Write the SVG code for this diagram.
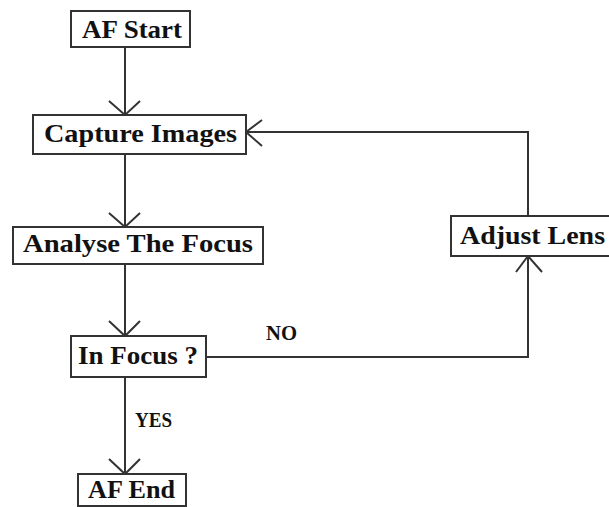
<svg xmlns="http://www.w3.org/2000/svg" width="609" height="507" viewBox="0 0 609 507">
<style>
.box{fill:#fff;stroke:#333;stroke-width:2}
.t{font-family:"Liberation Serif","Times New Roman",serif;font-weight:bold;font-size:26px;fill:#111}
.s{font-family:"Liberation Serif","Times New Roman",serif;font-weight:bold;font-size:20px;fill:#111}
.c{fill:none;stroke:#333;stroke-width:2}
</style>
<rect width="609" height="507" fill="#fff"/>
<g id="connectors">
<path class="c" d="M125 47V115M109 101L125 115L140 101"/>
<path class="c" d="M125 154V227M109 213L125 227L140 213"/>
<path class="c" d="M125 264V336M109 321L125 336L140 321"/>
<path class="c" d="M125 377V474M109 459L125 474L140 459"/>
<path class="c" d="M206 357H528V256M516 272L528 256L542 272"/>
<path class="c" d="M528 216V132H246M262 120L246 132L262 146"/>
<text class="s" x="266" y="340" textLength="31" lengthAdjust="spacingAndGlyphs">NO</text>
<text class="s" x="135" y="427" textLength="37" lengthAdjust="spacingAndGlyphs">YES</text>
</g>
<g id="af-start"><rect class="box" x="71" y="11" width="119" height="36"/><text class="t" x="82" y="38" textLength="100" lengthAdjust="spacingAndGlyphs">AF Start</text></g>
<g id="capture-images"><rect class="box" x="33" y="115" width="213" height="39"/><text class="t" x="44" y="142" textLength="193" lengthAdjust="spacingAndGlyphs">Capture Images</text></g>
<g id="analyse-focus"><rect class="box" x="13" y="227" width="250" height="37"/><text class="t" x="23" y="252" textLength="230" lengthAdjust="spacingAndGlyphs">Analyse The Focus</text></g>
<g id="in-focus"><rect class="box" x="71" y="336" width="135" height="41"/><text class="t" x="78" y="364" textLength="120" lengthAdjust="spacingAndGlyphs">In Focus ?</text></g>
<g id="af-end"><rect class="box" x="78" y="474" width="108" height="32"/><text class="t" x="88" y="498" textLength="87" lengthAdjust="spacingAndGlyphs">AF End</text></g>
<g id="adjust-lens"><rect class="box" x="451" y="216" width="160" height="40"/><text class="t" x="460" y="244" textLength="145" lengthAdjust="spacingAndGlyphs">Adjust Lens</text></g>
</svg>
